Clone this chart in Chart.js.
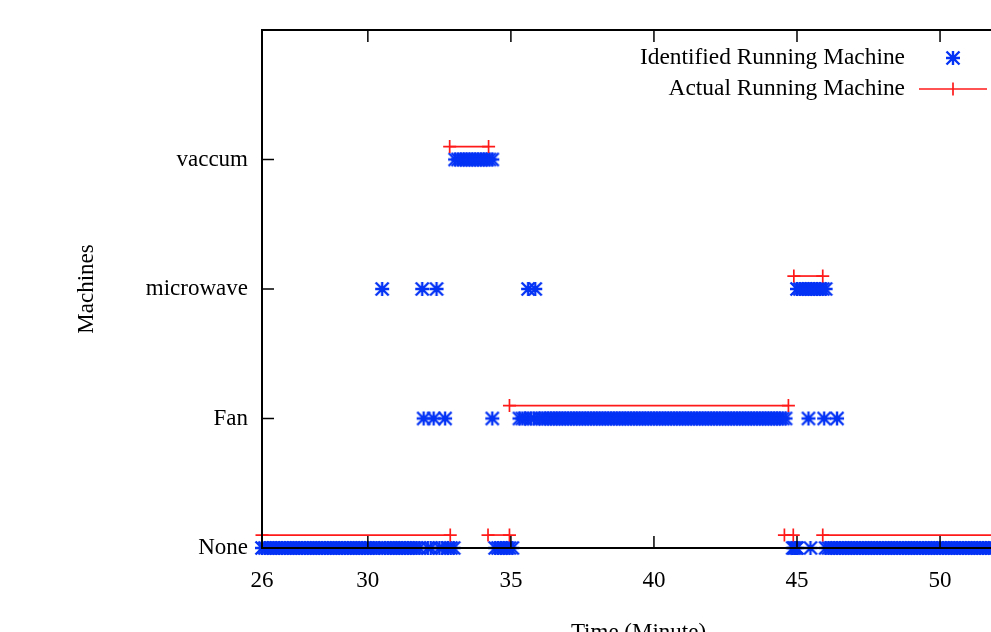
<!DOCTYPE html>
<html>
<head>
<meta charset="utf-8">
<script src="https://cdn.jsdelivr.net/npm/chart.js@4.4.1/dist/chart.umd.min.js"></script>
<style>
    html, body { margin: 0; padding: 0; background: #fff; overflow: hidden; }
    #wrap { position: absolute; left: 0; top: 0; width: 1040px; height: 660px; }
</style>
</head>
<body>
<div id="wrap"><canvas id="machineChart" width="1040" height="660"></canvas></div>
<script>
// y levels, bottom to top
const machines = ['None', 'Fan', 'microwave', 'vaccum'];

// x axis (minutes); the first tick sits at the start of the range and is labelled 26
const xTickValues = [26.3, 30, 35, 40, 45, 50];
const xTickLabels = ['26', '30', '35', '40', '45', '50'];
const xRange = [26.3, 52.62];

// Identified Running Machine: sample times (minutes) per machine
const idNone = [
    26.3, 26.4, 26.5, 26.6, 26.7, 26.8, 26.9,
    27.0, 27.1, 27.2, 27.3, 27.4, 27.5, 27.6, 27.7, 27.8, 27.9,
    28.0, 28.1, 28.2, 28.3, 28.4, 28.5, 28.6, 28.7, 28.8, 28.9,
    29.0, 29.1, 29.2, 29.3, 29.4, 29.5, 29.6, 29.7, 29.8, 29.9,
    30.0, 30.1, 30.2, 30.3, 30.4, 30.6, 30.7, 30.8, 30.9,
    31.0, 31.1, 31.2, 31.3, 31.4, 31.5, 31.6, 31.7, 31.8,
    32.1, 32.2, 32.5, 32.6, 32.8, 32.9, 33.0,
    34.45, 34.55, 34.65, 34.75, 34.85, 34.95, 35.05,
    44.85, 44.9, 44.95, 45.0, 45.47,
    46.0, 46.1, 46.2, 46.3, 46.4, 46.5, 46.6, 46.7, 46.8, 46.9,
    47.0, 47.1, 47.2, 47.3, 47.4, 47.5, 47.6, 47.7, 47.8, 47.9,
    48.0, 48.1, 48.2, 48.3, 48.4, 48.5, 48.6, 48.7, 48.8, 48.9,
    49.0, 49.1, 49.2, 49.3, 49.4, 49.5, 49.6, 49.7, 49.8, 49.9,
    50.0, 50.1, 50.2, 50.3, 50.4, 50.5, 50.6, 50.7, 50.8, 50.9,
    51.0, 51.1, 51.2, 51.3, 51.4, 51.5, 51.6, 51.7, 51.8, 51.9,
    52.0, 52.1, 52.2, 52.3, 52.4, 52.5, 52.6
];
const idFan = [
    31.95, 32.3, 32.7, 34.35,
    35.3, 35.4, 35.5, 35.7, 35.8,
    36.0, 36.1, 36.2, 36.3, 36.4, 36.5, 36.6, 36.7, 36.8, 36.9,
    37.0, 37.1, 37.2, 37.3, 37.4, 37.5, 37.6, 37.7, 37.8, 37.9,
    38.0, 38.1, 38.2, 38.3, 38.4, 38.5, 38.6, 38.7, 38.8, 38.9,
    39.0, 39.1, 39.2, 39.3, 39.4, 39.5, 39.6, 39.7, 39.8, 39.9,
    40.0, 40.1, 40.2, 40.3, 40.4, 40.5, 40.6, 40.7, 40.8, 40.9,
    41.0, 41.1, 41.2, 41.3, 41.4, 41.5, 41.6, 41.7, 41.8, 41.9,
    42.0, 42.1, 42.2, 42.3, 42.4, 42.5, 42.6, 42.7, 42.8, 42.9,
    43.0, 43.1, 43.2, 43.3, 43.4, 43.5, 43.6, 43.7, 43.8, 43.9,
    44.0, 44.1, 44.2, 44.3, 44.4, 44.5, 44.6,
    45.4, 45.95, 46.4
];
const idMicrowave = [
    30.5, 31.9, 32.4, 35.6, 35.85,
    45.0, 45.1, 45.2, 45.3, 45.4, 45.5, 45.6, 45.7, 45.8, 45.9, 46.0
];
const idVaccum = [
    33.05, 33.15, 33.25, 33.35, 33.45, 33.55, 33.65,
    33.75, 33.85, 33.95, 34.05, 34.15, 34.25, 34.35
];

// Actual Running Machine: [start, end] intervals (minutes) per machine
const actualNone = [[26.3, 32.88], [34.2, 34.95], [44.56, 44.87], [45.9, 52.62]];
const actualFan = [[34.95, 44.7]];
const actualMicrowave = [[44.89, 45.9]];
const actualVaccum = [[32.86, 34.22]];

const ACTUAL_SHIFT = 0.1;   // actual lines are drawn just above each level
const BLUE = '#0533f5';
const RED = '#ff1a1a';
const FONT = '"Liberation Serif", "Times New Roman", serif';

// gnuplot style "*" marker: + and x overlaid, x reaching the corners
function makeStar(color) {
    const c = document.createElement('canvas');
    c.width = 16; c.height = 16;
    const g = c.getContext('2d');
    g.strokeStyle = color;
    g.lineWidth = 2.4;
    g.beginPath();
    g.moveTo(8, 1); g.lineTo(8, 15);
    g.moveTo(1, 8); g.lineTo(15, 8);
    g.moveTo(1.5, 1.5); g.lineTo(14.5, 14.5);
    g.moveTo(14.5, 1.5); g.lineTo(1.5, 14.5);
    g.stroke();
    return c;
}
const starImg = makeStar(BLUE);

const datasets = [];
[idNone, idFan, idMicrowave, idVaccum].forEach((times, level) => {
    datasets.push({
        label: 'Identified ' + machines[level],
        data: times.map(t => ({ x: t, y: level })),
        pointStyle: starImg,
        pointRadius: 7,
        showLine: false,
        clip: false,
        order: 2
    });
});
[actualNone, actualFan, actualMicrowave, actualVaccum].forEach((segs, level) => {
    segs.forEach(seg => {
        datasets.push({
            label: 'Actual ' + machines[level],
            data: seg.map(t => ({ x: t, y: level + ACTUAL_SHIFT })),
            showLine: true,
            borderColor: RED,
            borderWidth: 1.7,
            pointStyle: 'cross',
            pointRadius: 6.5,
            pointBorderColor: RED,
            pointBorderWidth: 1.7,
            fill: false,
            clip: false,
            order: 1
        });
    });
});

// gnuplot-like frame: border on top of data, inward ticks, key in the top right
const framePlugin = {
    id: 'frame',
    afterDatasetsDraw(chart) {
        const { ctx, chartArea: a, scales: { x, y } } = chart;
        ctx.save();
        ctx.strokeStyle = '#000';
        ctx.lineWidth = 1.5;
        ctx.beginPath();
        xTickValues.slice(1).forEach(v => {
            const px = x.getPixelForValue(v);
            ctx.moveTo(px, a.bottom); ctx.lineTo(px, a.bottom - 12);
            ctx.moveTo(px, a.top); ctx.lineTo(px, a.top + 12);
        });
        [1, 2, 3].forEach(v => {
            const py = y.getPixelForValue(v);
            ctx.moveTo(a.left, py); ctx.lineTo(a.left + 12, py);
            ctx.moveTo(a.right, py); ctx.lineTo(a.right - 12, py);
        });
        ctx.stroke();
        ctx.lineWidth = 2;
        ctx.strokeRect(a.left, a.top, a.right - a.left, a.bottom - a.top);

        // key
        const textX = a.right - 110;
        const symX = a.right - 62;
        const row1 = a.top + 28, row2 = a.top + 59;
        ctx.font = '23.4px ' + FONT;
        ctx.fillStyle = '#000';
        ctx.textAlign = 'right';
        ctx.textBaseline = 'middle';
        ctx.fillText('Identified Running Machine', textX, row1);
        ctx.fillText('Actual Running Machine', textX, row2);
        ctx.drawImage(starImg, symX - 8, row1 - 8);
        ctx.strokeStyle = RED;
        ctx.lineWidth = 1.7;
        ctx.beginPath();
        ctx.moveTo(symX - 34, row2); ctx.lineTo(symX + 34, row2);
        ctx.moveTo(symX, row2 - 6.5); ctx.lineTo(symX, row2 + 6.5);
        ctx.stroke();
        ctx.restore();
    }
};

new Chart(document.getElementById('machineChart'), {
    type: 'scatter',
    data: { datasets },
    options: {
        responsive: false,
        animation: false,
        layout: { padding: { top: 30, right: 25, left: 0, bottom: 0 } },
        plugins: { legend: { display: false }, tooltip: { enabled: false } },
        scales: {
            x: {
                type: 'linear',
                min: xRange[0],
                max: xRange[1],
                afterBuildTicks: scale => { scale.ticks = xTickValues.map(v => ({ value: v })); },
                afterFit: scale => { scale.height = 112; },
                grid: { display: false, drawTicks: false },
                border: { display: false },
                ticks: {
                    autoSkip: false,
                    maxRotation: 0,
                    padding: 19,
                    color: '#000',
                    font: { family: FONT, size: 23 },
                    callback: (value, index) => xTickLabels[index]
                },
                title: {
                    display: true,
                    text: 'Time (Minute)',
                    color: '#000',
                    font: { family: FONT, size: 23 },
                    padding: { top: 0, bottom: 13 }
                }
            },
            y: {
                type: 'linear',
                min: 0,
                max: 4,
                afterBuildTicks: scale => { scale.ticks = [0, 1, 2, 3, 4].map(v => ({ value: v })); },
                afterFit: scale => { scale.width = 262; },
                grid: { display: false, drawTicks: false },
                border: { display: false },
                ticks: {
                    autoSkip: false,
                    padding: 14,
                    color: '#000',
                    font: { family: FONT, size: 23 },
                    callback: value => machines[value] || ''
                },
                title: {
                    display: true,
                    text: 'Machines',
                    color: '#000',
                    font: { family: FONT, size: 23 },
                    padding: { top: 73, bottom: 0 }
                }
            }
        }
    },
    plugins: [framePlugin]
});
</script>
</body>
</html>
